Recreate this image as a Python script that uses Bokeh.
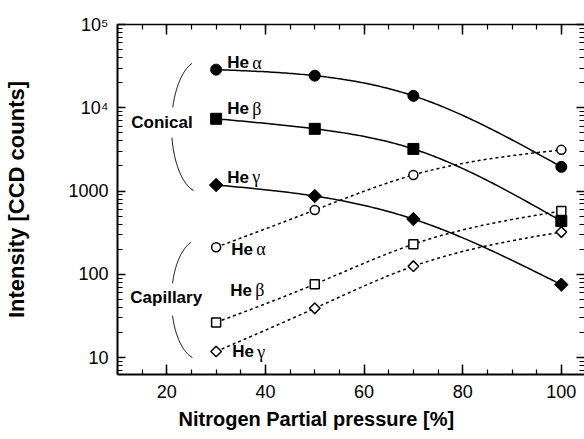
import numpy as np
from bokeh.plotting import figure
from bokeh.models import (Range1d, LogAxis, LinearAxis, FixedTicker,
                          SingleIntervalTicker, ColumnDataSource, Title)
from bokeh.embed import file_html
from bokeh.resources import INLINE
from bokeh.core.properties import value

# Nitrogen partial pressure [%]
pressure = [30, 50, 70, 100]

# Line intensities [CCD counts]
conical_alpha = [28700, 24300, 13900, 1950]
conical_beta = [7370, 5580, 3200, 435]
conical_gamma = [1180, 870, 460, 75]
capillary_alpha = [211, 590, 1560, 3120]
capillary_beta = [26.4, 76, 230, 574]
capillary_gamma = [11.8, 39, 125, 321]

x_major = [20, 40, 60, 80, 100]
x_tick_labels = ["20", "40", "60", "80", "100"]
y_major = [10, 100, 1000, 10000, 100000]
y_tick_labels = ["10", "100", "1000", "10\u2074", "10\u2075"]

SANS = value("Liberation Sans")
SERIF = value("Liberation Serif")


def smooth(xs, ys, n=150):
    """Natural cubic spline through the points, in log10 space."""
    x = np.asarray(xs, float)
    y = np.log10(np.asarray(ys, float))
    m = len(x)
    h = np.diff(x)
    A = np.zeros((m, m))
    b = np.zeros(m)
    A[0, 0] = A[-1, -1] = 1.0
    for i in range(1, m - 1):
        A[i, i - 1] = h[i - 1]
        A[i, i] = 2 * (h[i - 1] + h[i])
        A[i, i + 1] = h[i]
        b[i] = 3 * ((y[i + 1] - y[i]) / h[i] - (y[i] - y[i - 1]) / h[i - 1])
    c = np.linalg.solve(A, b)
    bb = (y[1:] - y[:-1]) / h - h * (2 * c[:-1] + c[1:]) / 3
    d = (c[1:] - c[:-1]) / (3 * h)
    xq = np.linspace(x[0], x[-1], n)
    k = np.clip(np.searchsorted(x, xq, side="right") - 1, 0, m - 2)
    dx = xq - x[k]
    yq = y[k] + bb[k] * dx + c[k] * dx ** 2 + d[k] * dx ** 3
    return xq, 10 ** yq


def brace(xc, rx, lyc, ry, s0, s1, n=60):
    """Part of a '(' shaped elliptical arc, on a log-y axis."""
    s = np.linspace(s0, s1, n)
    phi = np.arcsin(s)
    return xc - rx * np.cos(phi), 10 ** (lyc + ry * s)


p = figure(width=584, height=439, output_backend="svg", toolbar_location=None,
           y_axis_type="log",
           x_range=Range1d(10, 104.7), y_range=Range1d(6.25, 1e5),
           min_border_left=117, min_border_right=0, min_border_top=24,
           min_border_bottom=65)
p.outline_line_color = None
p.xgrid.grid_line_color = None
p.ygrid.grid_line_color = None
p.background_fill_color = "white"

yminor = [m * 10 ** e for e in range(0, 5) for m in range(2, 10)
          if 6 <= m * 10 ** e <= 1e5]


def style_axis(ax, major_in, minor_in, line_width):
    ax.major_tick_in = major_in
    ax.major_tick_out = 0
    ax.minor_tick_in = minor_in
    ax.minor_tick_out = 0
    ax.major_tick_line_color = "black"
    ax.minor_tick_line_color = "black"
    ax.major_tick_line_width = 1.5
    ax.minor_tick_line_width = 1.2
    ax.axis_line_color = "black"
    ax.axis_line_width = line_width


def hide_labels(ax, ticks):
    ax.major_label_overrides = {v: " " for v in ticks}
    ax.major_label_text_font_size = "2px"
    ax.major_label_text_color = None
    ax.major_label_standoff = 0


# bottom axis
xa = p.xaxis[0]
xa.ticker = SingleIntervalTicker(interval=20, num_minor_ticks=4)
style_axis(xa, 10, 5, 2)
xa.major_label_overrides = {v: t for v, t in zip(x_major, x_tick_labels)}
xa.major_label_text_font = "Liberation Sans"
xa.major_label_text_font_size = "18px"
xa.major_label_text_color = "black"
xa.major_label_standoff = 10

# x title, shifted left of the frame centre
p.add_layout(Title(text="Nitrogen Partial pressure [%]", align="left",
                   offset=61, text_font="Liberation Sans",
                   text_font_style="bold", text_font_size="20px",
                   text_color="black", standoff=11), "below")

# left axis
ya = p.yaxis[0]
ya.ticker = FixedTicker(ticks=y_major, minor_ticks=yminor)
style_axis(ya, 8, 5, 2)
ya.major_label_overrides = {v: t for v, t in zip(y_major, y_tick_labels)}
ya.major_label_text_font = "Liberation Sans"
ya.major_label_text_font_size = "18px"
ya.major_label_text_color = "black"
ya.major_label_standoff = 9
ya.axis_label = "Intensity [CCD counts]"
ya.axis_label_text_font = "Liberation Sans"
ya.axis_label_text_font_style = "bold"
ya.axis_label_text_font_size = "22px"
ya.axis_label_text_color = "black"
ya.axis_label_standoff = 36

# mirrored ticks on top and right
top = LinearAxis(ticker=SingleIntervalTicker(interval=20, num_minor_ticks=4))
style_axis(top, 10, 5, 1.5)
hide_labels(top, x_major)
p.add_layout(top, "above")

right = LogAxis(ticker=FixedTicker(ticks=y_major, minor_ticks=yminor))
style_axis(right, 8, 5, 1.5)
hide_labels(right, y_major)
right.axis_line_color = None
p.add_layout(right, "right")

# fitted curves
for series, dash in [(conical_alpha, "solid"), (conical_beta, "solid"),
                     (conical_gamma, "solid"), (capillary_alpha, "3 3"),
                     (capillary_beta, "3 3"), (capillary_gamma, "3 3")]:
    xs, ys = smooth(pressure, series)
    p.line(xs, ys, line_color="black", line_width=1.5, line_dash=dash)

# markers
p.scatter(pressure, conical_alpha, marker="circle", size=11,
          fill_color="black", line_color="black")
p.scatter(pressure, conical_beta, marker="square", size=11,
          fill_color="black", line_color="black")
p.scatter(pressure, conical_gamma, marker="square", size=9.5, angle=np.pi / 4,
          fill_color="black", line_color="black")
p.scatter(pressure, capillary_alpha, marker="circle", size=9,
          fill_color="white", line_color="black", line_width=1.5)
p.scatter(pressure, capillary_beta, marker="square", size=9,
          fill_color="white", line_color="black", line_width=1.5)
p.scatter(pressure, capillary_gamma, marker="square", size=7.5, angle=np.pi / 4,
          fill_color="white", line_color="black", line_width=1.5)

# group braces
for xc, rx, lyc, ry, ranges in [
        (26.84, 5.88, 3.775, 0.793, [(0.29, 0.955), (-0.97, -0.17)]),
        (26.63, 5.68, 1.697, 0.721, [(0.27, 0.95), (-0.967, -0.27)])]:
    for s0, s1 in ranges:
        bx, by = brace(xc, rx, lyc, ry, s0, s1)
        p.line(bx, by, line_color="black", line_width=1)

p.text(x=[12.8, 12.6], y=[6650, 52.6], text=["Conical", "Capillary"],
       text_font=SANS, text_font_style="bold", text_font_size="17px",
       text_color="black", text_align="left", text_baseline="middle")

# line labels next to the 30 % points
lab = ColumnDataSource(dict(
    x=[pressure[0]] * 6,
    y=[conical_alpha[0], conical_beta[0], conical_gamma[0],
       capillary_alpha[0], capillary_beta[0], capillary_gamma[0]],
    greek=["\u03b1", "\u03b2", "\u03b3", "\u03b1", "\u03b2", "\u03b3"],
    he=["He"] * 6,
    dx=[11, 11, 11, 15, 14, 16],
    gdx=[36, 36, 36, 40, 39, 41],
    dy=[-7, -10, -8, 2, -32, 0],
))
p.text(x="x", y="y", text="he", x_offset="dx", y_offset="dy", source=lab,
       text_font=SANS, text_font_style="bold", text_font_size="17px",
       text_color="black", text_align="left", text_baseline="middle")
p.text(x="x", y="y", text="greek", x_offset="gdx", y_offset="dy", source=lab,
       text_font=SERIF, text_font_size="18px",
       text_color="black", text_align="left", text_baseline="middle")

open("out.html", "w").write(file_html(p, INLINE))
